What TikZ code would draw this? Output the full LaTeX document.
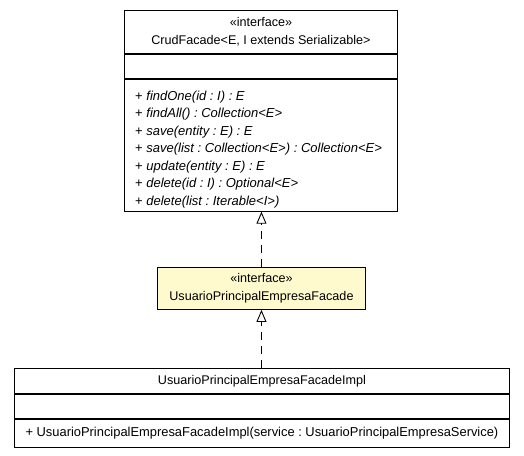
\documentclass[tikz,border=0pt]{standalone}
\usepackage{fontspec}
\setmainfont{Liberation Sans}
\usetikzlibrary{arrows.meta}

\definecolor{notefill}{RGB}{255,250,205}

\tikzset{
  x=1pt, y=-1pt, % pixel-like coordinates, y grows downwards
  box/.style={draw, line width=0.9pt, anchor=north west, inner sep=0pt,
    font=\fontsize{12.6}{18.5}\selectfont\frenchspacing, align=center},
  opstext/.style={anchor=north west, inner sep=0pt, align=left,
    font=\fontsize{13}{17.5}\selectfont\frenchspacing\itshape},
  realizes/.style={dashed, dash pattern=on 8pt off 6pt, line width=0.9pt,
    -{Triangle[open, length=12pt, width=10pt]}},
}

\begin{document}
\begin{tikzpicture}
    \useasboundingbox (0,0) rectangle (524,455);
    % CrudFacade
    \node[box, minimum width=273pt, minimum height=43pt] (crudHead) at (124,10)
        {«interface»\\CrudFacade<E, I extends Serializable>};
    \node[box, minimum width=273pt, minimum height=24pt] (crudAttrs) at (crudHead.south west) {};
    \node[box, minimum width=273pt, minimum height=132pt] (crudOps) at (crudAttrs.south west) {};
    \node[opstext] (crudOpsText) at ([shift={(11,12)}]crudOps.north west)
        {\upshape+ \itshape findOne(id : I) : E\\
         \upshape+ \itshape findAll() : Collection<E>\\
         \upshape+ \itshape save(entity : E) : E\\
         \upshape+ \itshape save(list : Collection<E>) : Collection<E>\\
         \upshape+ \itshape update(entity : E) : E\\
         \upshape+ \itshape delete(id : I) : Optional<E>\\
         \upshape+ \itshape delete(list : Iterable<I>)};
    % UsuarioPrincipalEmpresaFacade
    \node[box, fill=notefill, minimum width=208pt, minimum height=42pt] (facade) at (157,267)
        {«interface»\\UsuarioPrincipalEmpresaFacade};
    % UsuarioPrincipalEmpresaFacadeImpl
    \node[box, minimum width=495pt, minimum height=25pt] (implHead) at (14,368)
        {UsuarioPrincipalEmpresaFacadeImpl};
    \node[box, minimum width=495pt, minimum height=24pt] (implAttrs) at (implHead.south west) {};
    \node[box, minimum width=495pt, minimum height=28pt, font=\fontsize{12.9}{18.5}\selectfont\frenchspacing] (implOps) at (implAttrs.south west)
        {+ UsuarioPrincipalEmpresaFacadeImpl(service : UsuarioPrincipalEmpresaService)};
    % realizations
    \draw[realizes] (facade.north) -- (facade.north |- crudOps.south);
    \draw[realizes] (implHead.north -| facade.south) -- (facade.south);
\end{tikzpicture}
\end{document}
